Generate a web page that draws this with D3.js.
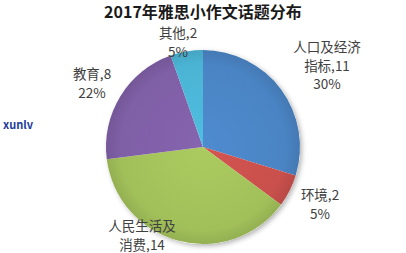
<!DOCTYPE html>
<html><head><meta charset="utf-8">
<script src="https://cdn.jsdelivr.net/npm/d3@7"></script>
<style>
html,body{margin:0;padding:0;background:#fff;}
svg{display:block;}
text{font-family:"Noto Sans CJK SC","Noto Sans",sans-serif;}
</style></head><body>
<script>
const categories = ["人口及经济指标", "环境", "人民生活及消费", "教育", "其他"];
const values = [11, 2, 14, 8, 2];
const percentLabels = ["30%", "5%", "38%", "22%", "5%"];
const labelLines = [["人口及经济", "指标,11", "30%"], ["环境,2", "5%"], ["人民生活及", "消费,14"], ["教育,8", "22%"], ["其他,2", "5%"]];
const colors = ["#4a84c4", "#c9504c", "#a2c05a", "#7f5fa6", "#4bb4d4"];
const title = "2017年雅思小作文话题分布";

const W = 406, H = 253, cx = 203, cy = 147, R = 97;
const svg = d3.select("body").append("svg").attr("width", W).attr("height", H);
const defs = svg.append("defs");
colors.forEach((c, i) => {
  const g = defs.append("radialGradient").attr("id", "g" + i)
    .attr("gradientUnits", "userSpaceOnUse").attr("cx", 0).attr("cy", 0).attr("r", R);
  g.append("stop").attr("offset", "0%").attr("stop-color", d3.color(c).brighter(0.15));
  g.append("stop").attr("offset", "85%").attr("stop-color", c);
  g.append("stop").attr("offset", "100%").attr("stop-color", d3.color(c).darker(0.25));
});
const f = defs.append("filter").attr("id", "sh").attr("x", "-20%").attr("y", "-20%").attr("width", "140%").attr("height", "140%");
f.append("feDropShadow").attr("dx", 2).attr("dy", 2).attr("stdDeviation", 2.5).attr("flood-color", "#000").attr("flood-opacity", 0.3);

svg.append("text").attr("x", 203).attr("y", 17.5).attr("text-anchor", "middle")
  .attr("font-size", 16).attr("font-weight", "bold").attr("fill", "#1a1a1a").text(title);

const pie = d3.pie().sort(null).value(d => d);
const arcs = pie(values);
const arc = d3.arc().innerRadius(0).outerRadius(R);
const gp = svg.append("g").attr("transform", `translate(${cx},${cy})`);
gp.append("circle").attr("r", R).attr("fill", "#fff").attr("filter", "url(#sh)");
gp.selectAll("path").data(arcs).join("path")
  .attr("d", arc)
  .attr("fill", (d, i) => `url(#g${i})`);

const labelPos = [[327, 47], [320, 195], [142, 226], [92, 74], [178, 33]];
const lineH = 18.5;
labelLines.forEach((lines, i) => {
  const t = svg.append("text").attr("text-anchor", "middle").attr("font-size", 13.5).attr("fill", "#404040");
  lines.forEach((s, j) => {
    t.append("tspan").attr("x", labelPos[i][0]).attr("y", labelPos[i][1] + j * lineH + 5).text(s);
  });
});

svg.append("text").attr("x", 3).attr("y", 129).attr("font-size", 11).attr("font-weight", "bold")
  .attr("fill", "#1f3d9c").attr("font-family", "DejaVu Sans, sans-serif").text("xunlv");
</script>
</body></html>
